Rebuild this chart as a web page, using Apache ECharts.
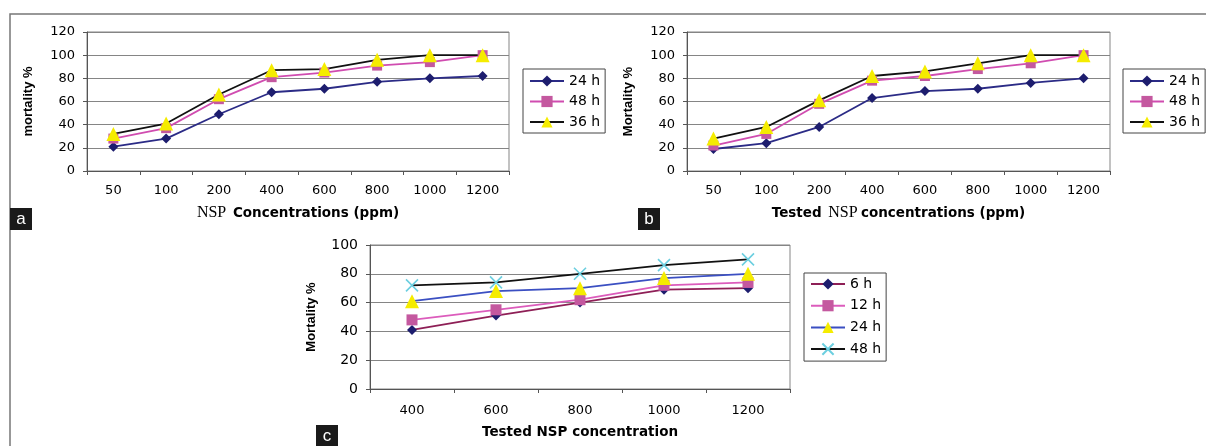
<!DOCTYPE html>
<html>
<head>
<meta charset="utf-8">
<script src="https://cdn.jsdelivr.net/npm/echarts@6/dist/echarts.min.js"></script>
<style>
  html, body { margin: 0; padding: 0; background: #fff; }
  #chart { width: 1206px; height: 446px; }
</style>
</head>
<body>
<div id="chart"></div>
<script>
// panel a + b share the concentration axis
const concAB = ['50', '100', '200', '400', '600', '800', '1000', '1200'];
const a24 = [21, 28, 49, 68, 71, 77, 80, 82];
const a48 = [28, 37, 62, 81, 85, 91, 94, 100];
const a36 = [32, 41, 66, 87, 88, 96, 100, 100];

const b24 = [19, 24, 38, 63, 69, 71, 76, 80];
const b48 = [22, 32, 58, 78, 82, 88, 93, 100];
const b36 = [28, 38, 61, 82, 86, 93, 100, 100];

// panel c
const concC = ['400', '600', '800', '1000', '1200'];
const c6 = [41, 51, 60, 69, 70];
const c12 = [48, 55, 62, 72, 74];
const c24 = [61, 68, 70, 77, 80];
const c48 = [72, 74, 80, 86, 90];

const SANS = 'DejaVu Sans';
const VSANS = 'Liberation Sans';
const GRID_COL = '#858585';
const NAVY = '#1d1d6e';
const PINK = '#c4589f';
const CROSS = 'path://M0,0L10,10M10,0L0,10';

const chart = echarts.init(document.getElementById('chart'));

const richName = {
  b: { fontFamily: SANS, fontWeight: 'bold', fontSize: 13.5, color: '#000' },
  s: { fontFamily: 'Liberation Serif', fontSize: 16, color: '#000' }
};

function xAxis(idx, cats, name, gap, lblMargin) {
  return {
    type: 'category', gridIndex: idx, data: cats, boundaryGap: true,
    name: name, nameLocation: 'middle', nameGap: gap,
    nameTextStyle: { rich: richName },
    axisLine: { lineStyle: { color: '#555', width: 1 } },
    axisTick: { show: true, length: 4, lineStyle: { color: '#555' } },
    axisLabel: { margin: lblMargin, fontFamily: SANS, fontSize: 13, color: '#000' },
    splitLine: { show: false }
  };
}

function yAxis(idx, max, name, fs) {
  return {
    type: 'value', gridIndex: idx, min: 0, max: max, interval: 20,
    name: name, nameLocation: 'middle', nameGap: 52,
    nameTextStyle: { fontFamily: VSANS, fontWeight: 'bold', fontSize: 13, color: '#000' },
    axisLine: { show: true, lineStyle: { color: '#555', width: 1 } },
    axisTick: { show: true, length: 4, lineStyle: { color: '#555' } },
    axisLabel: { margin: 12, fontFamily: SANS, fontSize: fs, color: '#000' },
    splitLine: { show: true, lineStyle: { color: GRID_COL, width: 1 } }
  };
}

function line(name, idx, data, lineCol, sym, symSize, symCol) {
  return {
    name: name, type: 'line', xAxisIndex: idx, yAxisIndex: idx, data: data,
    symbol: sym, symbolSize: symSize, showAllSymbol: true,
    lineStyle: { color: lineCol, width: 1.8 },
    itemStyle: sym === CROSS
      ? { color: 'rgba(0,0,0,0)', borderColor: symCol, borderWidth: 1.6 }
      : { color: symCol, borderWidth: 0 },
    emphasis: { disabled: true },
    z: 3
  };
}

function legend(left, top, names, pad, gap) {
  return {
    left: left, top: top, orient: 'vertical', data: names,
    formatter: n => n.split('|')[1],
    itemWidth: 34, itemHeight: 14, itemGap: gap,
    padding: pad,
    borderColor: '#444', borderWidth: 1, backgroundColor: '#fff',
    textStyle: { fontFamily: SANS, fontSize: 14, color: '#000', lineHeight: 14 },
    selectedMode: false
  };
}

function tag(x, y, h, letter) {
  return [
    { type: 'rect', shape: { x: x, y: y, width: 22, height: h }, style: { fill: '#1a1a1a' } },
    { type: 'text', x: x + 11, y: y + 11, style: {
        text: letter, fill: '#fff', font: '17px "Liberation Sans"', align: 'center', verticalAlign: 'middle' } }
  ];
}

chart.setOption({
  animation: false,
  backgroundColor: '#fff',
  grid: [
    { left: 87, top: 32, width: 422, height: 139, show: true, borderColor: GRID_COL, borderWidth: 1, backgroundColor: '#fff' },
    { left: 687, top: 32, width: 423, height: 139, show: true, borderColor: GRID_COL, borderWidth: 1, backgroundColor: '#fff' },
    { left: 370, top: 245, width: 420, height: 144, show: true, borderColor: GRID_COL, borderWidth: 1, backgroundColor: '#fff' }
  ],
  xAxis: [
    xAxis(0, concAB, '{s|NSP}  {b|Concentrations (ppm)}', 34, 13),
    xAxis(1, concAB, '{b|Tested}  {s|NSP} {b|concentrations (ppm)}', 34, 13),
    xAxis(2, concC, '{b|Tested NSP concentration}', 36, 15)
  ],
  yAxis: [
    yAxis(0, 120, 'mortality %', 13),
    yAxis(1, 120, 'Mortality %', 13),
    yAxis(2, 100, 'Mortality %', 14)
  ],
  legend: [
    legend(523, 69, ['a|24 h', 'a|48 h', 'a|36 h'], [5, 5, 4, 6], 6.5),
    legend(1123, 69, ['b|24 h', 'b|48 h', 'b|36 h'], [5, 5, 4, 6], 6.5),
    legend(804, 273, ['c|6 h', 'c|12 h', 'c|24 h', 'c|48 h'], [4, 5, 5, 6], 7.7)
  ],
  series: [
    line('a|24 h', 0, a24, '#2b2b86', 'diamond', 10, NAVY),
    line('a|48 h', 0, a48, '#d04cb0', 'rect', 10, PINK),
    line('a|36 h', 0, a36, '#111', 'triangle', 14, '#f5ec00'),

    line('b|24 h', 1, b24, '#2b2b86', 'diamond', 10, NAVY),
    line('b|48 h', 1, b48, '#d04cb0', 'rect', 10, PINK),
    line('b|36 h', 1, b36, '#111', 'triangle', 14, '#f5ec00'),

    line('c|6 h', 2, c6, '#8e1f56', 'diamond', 10, NAVY),
    line('c|12 h', 2, c12, '#dc5cbc', 'rect', 11, PINK),
    line('c|24 h', 2, c24, '#3b4fc2', 'triangle', 14, '#f5ec00'),
    line('c|48 h', 2, c48, '#111', CROSS, 12, '#6ccfe0')
  ],
  graphic: [
    // outer frame (top and left edges only)
    { type: 'polyline', shape: { points: [[10, 446], [10, 14], [1206, 14]] },
      style: { stroke: '#777', lineWidth: 1.5, fill: null }, silent: true },
    ...tag(10, 208, 22, 'a'),
    ...tag(638, 208, 22, 'b'),
    ...tag(316, 425, 22, 'c')
  ]
});
</script>
</body>
</html>
